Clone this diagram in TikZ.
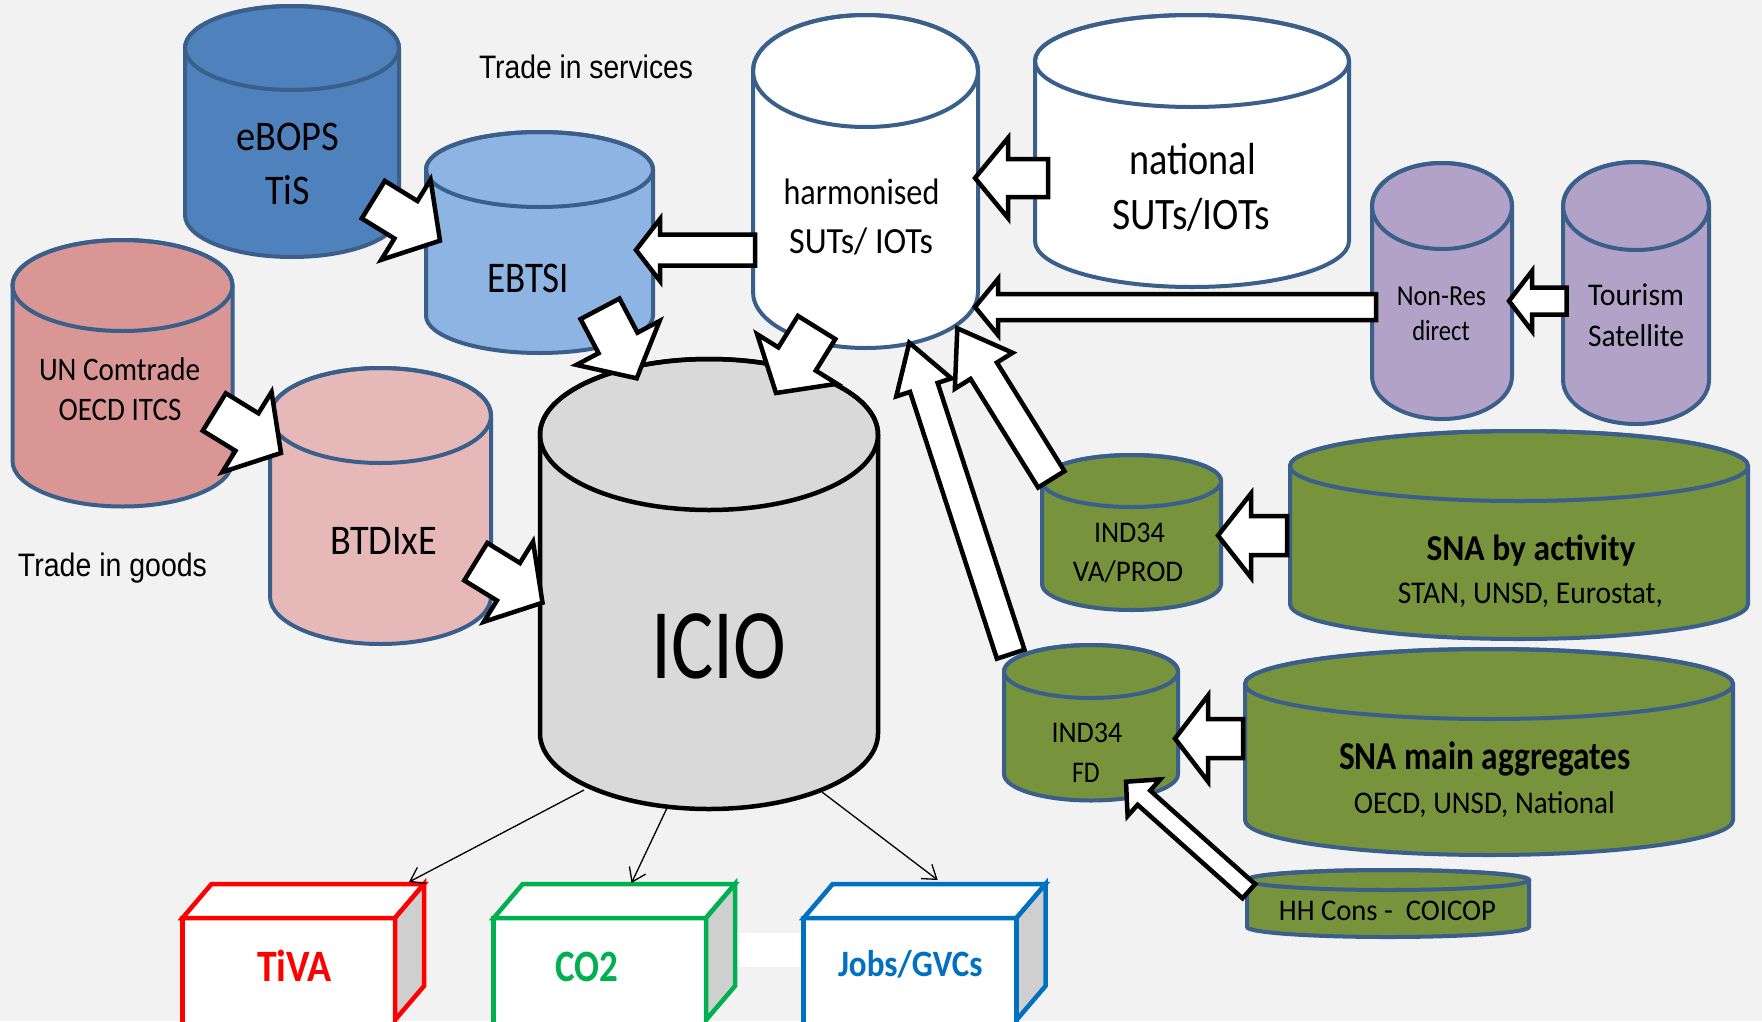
\documentclass[tikz,border=0pt]{standalone}
\usepackage{fontspec}
\setmainfont{Carlito}
\newfontfamily\arialn{Liberation Sans}
\usepackage{graphicx}
\usetikzlibrary{calc,arrows.meta}

\definecolor{bg}{HTML}{F2F2F2}
\definecolor{cylborder}{HTML}{3A5F8B}
\definecolor{ebopsfill}{HTML}{4F81BD}
\definecolor{ebtsifill}{HTML}{8EB4E3}
\definecolor{uncfill}{HTML}{D99694}
\definecolor{btdfill}{HTML}{E6B9B8}
\definecolor{iciofill}{HTML}{D9D9D9}
\definecolor{purplefill}{HTML}{B3A2C7}
\definecolor{greenfill}{HTML}{77933C}
\definecolor{tivared}{HTML}{FF0000}
\definecolor{cogreen}{HTML}{00B050}
\definecolor{jobsblue}{HTML}{0070C0}
\definecolor{cubeside}{HTML}{CFCFCF}

% text of given width (pt) and font size (pt)
\newcommand\tx[3]{\resizebox{#1pt}{\height}{\fontsize{#2pt}{#2pt}\selectfont #3}}

% cylinder: name, cx, y of top centre, y of bottom centre, rx, ry, fill, style
\newcommand\cyl[8]{%
  \path[#8, fill=#7] (#2-#5,#3) -- (#2-#5,#4)
     arc[start angle=180,end angle=360,x radius=#5pt,y radius=#6pt]
     -- (#2+#5,#3)
     arc[start angle=0,end angle=180,x radius=#5pt,y radius=#6pt] -- cycle;
  \draw[#8] (#2,#3) ellipse[x radius=#5pt, y radius=#6pt];
  \node[inner sep=0pt, minimum width={2*#5*1pt}, minimum height={(#4-#3+2*#6)*1pt}] (#1) at (#2,{(#3+#4)/2}) {};
}

% block arrow: tail, tip, shaft half width, head half width, head length
\newcommand\barrow[5]{%
  \coordinate (#1-#2-b) at ($(#2)!#5!(#1)$);
  \draw[blockarr] ($(#1)!#3!90:(#2)$) -- ($(#1-#2-b)!#3!90:(#2)$)
     -- ($(#1-#2-b)!#4!90:(#2)$) -- (#2)
     -- ($(#1-#2-b)!#4!-90:(#2)$) -- ($(#1-#2-b)!#3!-90:(#2)$)
     -- ($(#1)!#3!-90:(#2)$) -- cycle;
}

% 3D box: name, x left, x right, colour
\newcommand\cube[4]{%
  \fill[white] (#2,918) rectangle (#3,1030);
  \draw[cubeline, draw=#4, fill=white] (#2,918) -- (#2+29,884) -- (#3+29,884) -- (#3,918) -- cycle;
  \draw[cubeline, draw=#4, fill=cubeside] (#3,918) -- (#3+29,884) -- (#3+29,986) -- (#3,1020) -- cycle;
  \draw[cubeline, draw=#4] (#2,1030) -- (#2,918) -- (#3,918) -- (#3,1030);
  \node[inner sep=0pt, minimum width={(#3-#2)*1pt}, minimum height=100pt] (#1) at ({(#2+#3)/2},968) {};
}

\tikzset{
  cylline/.style={line width=4pt, draw=cylborder},
  icioline/.style={line width=4.5pt, draw=black},
  blockarr/.style={fill=white, draw=black, line width=4.5pt, line join=miter},
  thinarr/.style={line width=1.3pt, -{Straight Barb[length=13pt,width=18pt]}},
  cubeline/.style={line width=4.5pt, line join=miter},
  lbl/.style={anchor=base, inner sep=0pt, outer sep=0pt},
}

\begin{document}
\begin{tikzpicture}[x=1pt, y=-1pt]
\useasboundingbox (0,0) rectangle (1762,1021);
\clip (0,0) rectangle (1762,1021);
\fill[bg] (0,0) rectangle (1762,1021);

% faint white strip between CO2 and Jobs boxes
\fill[white] (735,933) rectangle (804,967);

% cylinders
\cyl{ebops}{292}{48}{215}{107}{42}{ebopsfill}{cylline}
\cyl{ebtsi}{539.5}{169.5}{315.5}{113.5}{37.5}{ebtsifill}{cylline}
\cyl{harm}{865.5}{71}{292}{112.5}{56}{white}{cylline}
\cyl{nat}{1192}{61}{241}{157}{46}{white}{cylline}
\cyl{nonres}{1442}{206}{376}{70}{43}{purplefill}{cylline}
\cyl{tour}{1636}{206}{380}{73}{44}{purplefill}{cylline}
\cyl{uncom}{122.5}{285.5}{461}{110}{45.5}{uncfill}{cylline}
\cyl{btdixe}{380.5}{415.5}{596.5}{110.5}{47.5}{btdfill}{cylline}
\cyl{icio}{709}{434.5}{733.5}{169}{75.5}{iciofill}{icioline}
\cyl{indva}{1131.5}{481}{584}{89.5}{26}{greenfill}{cylline}
\cyl{snaact}{1519}{466}{604}{229}{35}{greenfill}{cylline}
\cyl{indfd}{1091}{671.5}{774}{87}{26.5}{greenfill}{cylline}
\cyl{snamain}{1489}{684}{820}{244}{35}{greenfill}{cylline}
\cyl{hh}{1388}{880}{927}{141}{10}{greenfill}{cylline}

% block arrow end points
\coordinate (natS) at (1048,178);      \coordinate (natE) at (975,178);
\coordinate (hebS) at (755,250);       \coordinate (hebE) at (636,250);
\coordinate (nrS) at (1376,307);       \coordinate (nrE) at (975,307);
\coordinate (tourS) at (1566.5,301);   \coordinate (tourE) at (1509,301);
\coordinate (actS) at (1287,535.5);    \coordinate (actE) at (1218,535.5);
\coordinate (mainS) at (1243,738.5);   \coordinate (mainE) at (1175,738.5);
\coordinate (hhS) at (1248.8,891.2);   \coordinate (hhE) at (1126,781.7);
\coordinate (vaS) at (1051.3,479.3);   \coordinate (vaE) at (957.3,328.3);
\coordinate (fdS) at (1010.7,654.2);   \coordinate (fdE) at (909.3,342.7);
\coordinate (ebS) at (373.3,199.7);    \coordinate (ebE) at (440,240.7);
\coordinate (etS) at (600,308.8);      \coordinate (etE) at (636.7,378.3);
\coordinate (hiS) at (816.6,327.5);    \coordinate (hiE) at (776,393);
\coordinate (unS) at (214.3,412);      \coordinate (unE) at (281,453);
\coordinate (btS) at (475.8,561.7);    \coordinate (btE) at (542.5,602.7);

\barrow{natS}{natE}{19pt}{40pt}{33pt}
\barrow{hebS}{hebE}{15.5pt}{31pt}{24pt}
\barrow{nrS}{nrE}{13pt}{28pt}{23pt}
\barrow{tourS}{tourE}{13.5pt}{30pt}{23pt}
\barrow{actS}{actE}{19.5pt}{42pt}{33pt}
\barrow{mainS}{mainE}{19.5pt}{43pt}{33pt}
\barrow{hhS}{hhE}{9.5pt}{24.5pt}{24pt}
\barrow{vaS}{vaE}{15.5pt}{34pt}{50pt}
\barrow{fdS}{fdE}{14.5pt}{29pt}{47pt}
\barrow{ebS}{ebE}{22pt}{47pt}{40pt}
\barrow{etS}{etE}{22pt}{47pt}{40pt}
\barrow{hiS}{hiE}{22pt}{47pt}{40pt}
\barrow{unS}{unE}{22pt}{47pt}{40pt}
\barrow{btS}{btE}{22pt}{47pt}{40pt}

% output boxes
\cube{tiva}{182.5}{395}{tivared}
\cube{co2}{493.7}{706}{cogreen}
\cube{jobs}{803.7}{1016.5}{jobsblue}

% thin arrows from ICIO
\coordinate (o1S) at (584,790);  \coordinate (o1E) at (409,882);
\coordinate (o2S) at (667,808);  \coordinate (o2E) at (631.5,883);
\coordinate (o3S) at (822,792);  \coordinate (o3E) at (937.7,880);
\draw[thinarr] (o1S) -- (o1E);
\draw[thinarr] (o2S) -- (o2E);
\draw[thinarr] (o3S) -- (o3E);

% labels
\node[lbl] (ebops-t1) at (287.5,150) {\tx{103}{42.2}{eBOPS}};
\node[lbl] (ebops-t2) at (287.6,204) {\tx{44.8}{42.2}{TiS}};
\node[lbl] (ebtsi-t) at (528.5,292.7) {\tx{81.7}{43.8}{EBTSI}};
\node[lbl] (harm-t1) at (861.5,204) {\tx{155.8}{36.9}{harmonised}};
\node[lbl] (harm-t2) at (861,253) {\tx{143.8}{36.9}{SUTs/ IOTs}};
\node[lbl] (nat-t1) at (1192.5,174) {\tx{126.6}{45}{national}};
\node[lbl] (nat-t2) at (1191,229) {\tx{158}{45}{SUTs/IOTs}};
\node[lbl] (nonres-t1) at (1441.4,305) {\tx{89}{29}{Non-Res}};
\node[lbl] (nonres-t2) at (1441,340) {\tx{57.5}{29}{direct}};
\node[lbl] (tour-t1) at (1636,305) {\tx{96}{31.6}{Tourism}};
\node[lbl] (tour-t2) at (1636,346.7) {\tx{96}{31.6}{Satellite}};
\node[lbl] (uncom-t1) at (119.5,380.7) {\tx{161}{32.8}{UN Comtrade}};
\node[lbl] (uncom-t2) at (120,420) {\tx{122.8}{32.8}{OECD ITCS}};
\node[lbl] (btdixe-t) at (383.7,554) {\tx{107}{42.2}{BTDIxE}};
\node[lbl] (icio-t) at (719,678) {\tx{135}{100}{ICIO}};
\node[lbl, text=tivared] (tiva-t) at (294.6,981.7) {\tx{75}{44.8}{\bfseries TiVA}};
\node[lbl, text=cogreen] (co2-t) at (587.2,981) {\tx{63}{44.8}{\bfseries CO2}};
\node[lbl, text=jobsblue] (jobs-t) at (910.3,976) {\tx{144.6}{37.2}{\bfseries Jobs/GVCs}};
\node[lbl] (indva-t1) at (1129.4,542.6) {\tx{70.8}{30}{IND34}};
\node[lbl] (indva-t2) at (1128,581.7) {\tx{110.5}{30}{VA/PROD}};
\node[lbl] (indfd-t1) at (1086.9,742) {\tx{70.8}{30}{IND34}};
\node[lbl] (indfd-t2) at (1086,782) {\tx{27.6}{30}{FD}};
\node[lbl] (snaact-t1) at (1531,560) {\tx{209}{36.4}{\bfseries SNA by activity}};
\node[lbl] (snaact-t2) at (1530.3,603) {\tx{265}{31.6}{STAN, UNSD, Eurostat,}};
\node[lbl] (snamain-t1) at (1485,769.6) {\tx{292}{39.6}{\bfseries SNA main aggregates}};
\node[lbl] (snamain-t2) at (1484.3,813) {\tx{261}{31.6}{OECD, UNSD, National}};
\node[lbl] (hh-t) at (1387.4,920) {\tx{217}{30}{HH Cons -\ \ COICOP}};
\node[lbl] (tis-t) at (586,78) {\tx{214}{32.5}{\arialn Trade in services}};
\node[lbl] (tig-t) at (112.5,576) {\tx{189}{32.5}{\arialn Trade in goods}};
\end{tikzpicture}
\end{document}
